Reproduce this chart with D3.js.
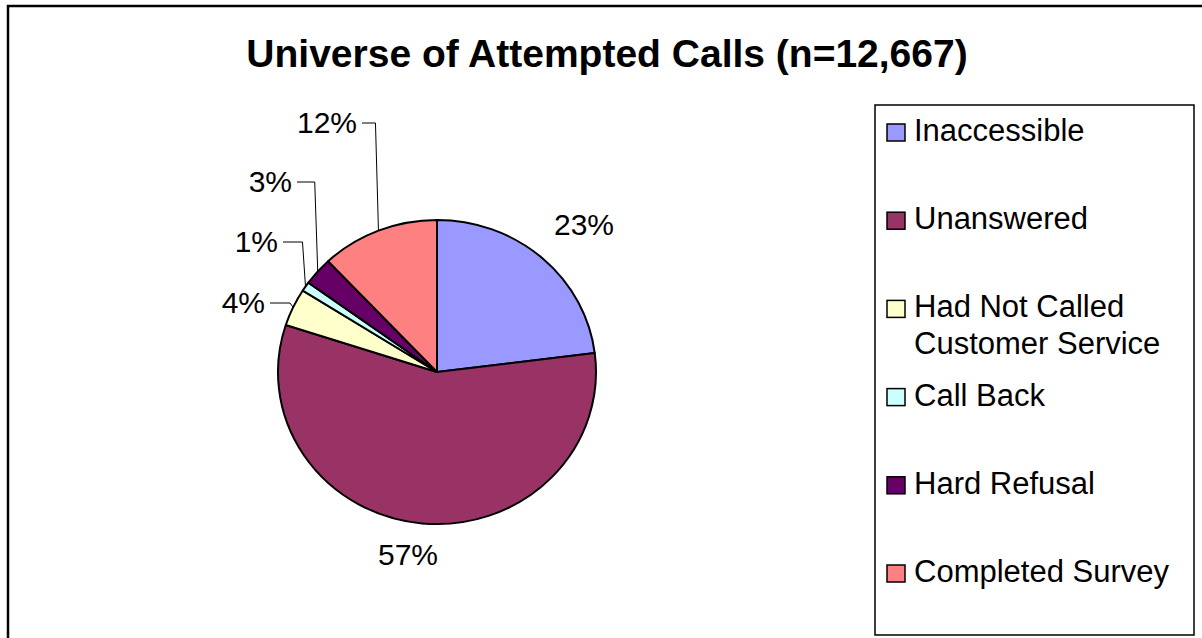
<!DOCTYPE html>
<html><head><meta charset="utf-8">
<script src="https://cdn.jsdelivr.net/npm/d3@7"></script>
<style>html,body{margin:0;padding:0;background:#fff;}svg{display:block;}</style>
</head><body>
<svg id="chart" width="1202" height="638"></svg>
<script>
// ---- data ----
const categories = ["Inaccessible","Unanswered","Had Not Called Customer Service","Call Back","Hard Refusal","Completed Survey"];
const legendLines = [["Inaccessible"],["Unanswered"],["Had Not Called","Customer Service"],["Call Back"],["Hard Refusal"],["Completed Survey"]];
const values = [23, 57, 4, 1, 3, 12];
const colors = ["#9999FF","#993366","#FFFFCC","#CCFFFF","#660066","#FF8080"];
const title = "Universe of Attempted Calls (n=12,667)";

// ---- layout ----
const W = 1202, H = 638;
const cx = 437, cy = 372, rx = 159, ry = 152;
// label anchors relative to pie center: [x, baseline y, text-anchor, hasLeader]
const labelLayout = [
  [147, -137, "middle", false],
  [-29, 193, "middle", false],
  [-172, -59, "end", true],
  [-159, -120, "end", true],
  [-145, -180, "end", true],
  [-80, -239, "end", true]
];

const svg = d3.select("#chart");
const FONT = "'Liberation Sans', Arial, sans-serif";

// outer border
svg.append("rect").attr("x", 8).attr("y", 6).attr("width", W + 20).attr("height", H + 20)
  .attr("fill", "#fff").attr("stroke", "#000").attr("stroke-width", 2.5);

// title
svg.append("text").attr("x", 607).attr("y", 67).attr("text-anchor", "middle")
  .attr("font-family", FONT).attr("font-weight", "bold").attr("font-size", 39)
  .text(title);

// pie
const pie = d3.pie().sort(null).value(d => d)(values);
const arc = d3.arc().innerRadius(0).outerRadius(1);
const g = svg.append("g").attr("transform", `translate(${cx},${cy}) scale(${rx},${ry})`);
g.selectAll("path").data(pie).join("path")
  .attr("d", arc)
  .attr("fill", (d, i) => colors[i])
  .attr("stroke", "#000").attr("stroke-width", 2)
  .attr("vector-effect", "non-scaling-stroke")
  .attr("stroke-linejoin", "round");

// labels
const fmt = d => d + "%";
const lg = svg.append("g").attr("font-family", FONT).attr("font-size", 30);
pie.forEach((d, i) => {
  const [lx, ly, anchor, leader] = labelLayout[i];
  lg.append("text").attr("x", cx + lx).attr("y", cy + ly)
    .attr("text-anchor", anchor).text(fmt(values[i]));
  if (leader) {
    const mid = (d.startAngle + d.endAngle) / 2;
    const ex = cx + rx * Math.sin(mid), ey = cy - ry * Math.cos(mid);
    const sx = cx + lx + 5, sy = cy + ly - 10;
    const hx = Math.max(sx + 8, Math.min(ex - 3, sx + 20));
    svg.append("path")
      .attr("d", `M${sx},${sy}H${hx}L${ex},${ey}`)
      .attr("fill", "none").attr("stroke", "#000").attr("stroke-width", 1);
  }
});

// legend
const legend = svg.append("g");
legend.append("rect").attr("x", 875).attr("y", 105).attr("width", 319).attr("height", 530)
  .attr("fill", "#fff").attr("stroke", "#000").attr("stroke-width", 1.5);
const rowY = d3.scalePoint().domain(d3.range(categories.length)).range([141, 582]);
categories.forEach((c, i) => {
  const y = rowY(i);
  legend.append("rect").attr("x", 887).attr("y", y - 17).attr("width", 18).attr("height", 17)
    .attr("fill", colors[i]).attr("stroke", "#000").attr("stroke-width", 1.5);
  const t = legend.append("text").attr("x", 914).attr("y", y)
    .attr("font-family", FONT).attr("font-size", 31);
  legendLines[i].forEach((ln, j) => {
    t.append("tspan").attr("x", 914).attr("dy", j === 0 ? 0 : 37).text(ln);
  });
});
</script>
</body></html>
